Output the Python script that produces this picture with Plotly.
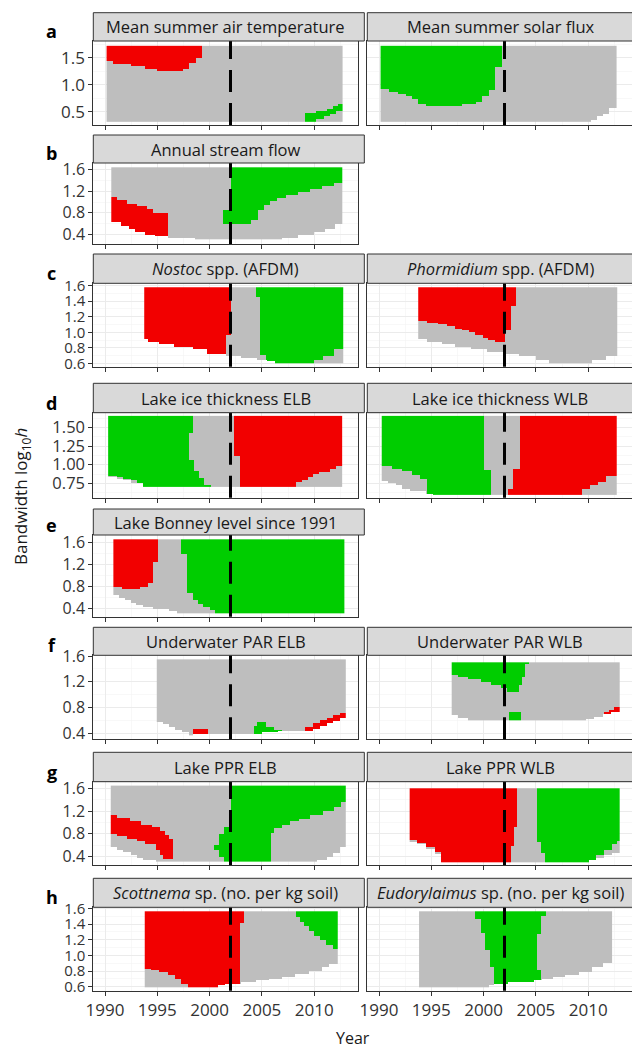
import numpy as np
import plotly.graph_objects as go

# ======================= DATA =======================
x_tick_years = [1990, 1995, 2000, 2005, 2010]
change_year = 2002
x_limits = [1988.88, 2014.19]

# Each SiZer map: span of years, top bandwidth, lower edge of the map (step list of
# (year, log10 h)), and coloured regions: lower / upper edges as step lists.
# ---- a: Mean summer air temperature
air_span = [1990.15, 2012.70]
air_top = 1.72
air_lo = [(1990.15, 0.31)]
air_red_lo = [(1990.15, 1.43), (1990.75, 1.38), (1992.5, 1.35), (1993.85, 1.30), (1995.0, 1.26),
              (1997.5, 1.30), (1998.1, 1.40), (1998.7, 1.50)]
air_green_lo = [(2009.05, 0.31), (2010.2, 0.36), (2010.9, 0.41), (2011.5, 0.46), (2012.1, 0.51)]
air_green_hi = [(2009.05, 0.47), (2010.2, 0.51), (2011.2, 0.56), (2011.8, 0.60), (2012.3, 0.64)]

# ---- a: Mean summer solar flux
sol_span = [1990.15, 2012.70]
sol_top = 1.72
sol_lo = [(1990.15, 0.31), (2010.25, 0.34), (2010.8, 0.41), (2011.4, 0.46), (2012.0, 0.57)]
sol_green_lo = [(1990.15, 0.915), (1990.95, 0.87), (1991.9, 0.82), (1992.55, 0.78), (1993.2, 0.73),
                (1993.8, 0.64), (1994.45, 0.61), (1997.95, 0.64), (1999.25, 0.685), (1999.9, 0.78),
                (2000.5, 0.90), (2001.1, 1.32)]

# ---- b: Annual stream flow
flow_span = [1990.6, 2012.7]
flow_top = 1.645
flow_lo = [(1990.6, 0.62), (1991.5, 0.555), (1992.3, 0.50), (1992.9, 0.43), (1993.85, 0.39),
           (1994.8, 0.36), (1996.0, 0.33), (1998.65, 0.30), (2006.95, 0.33), (2008.5, 0.39),
           (2010.0, 0.43), (2011.0, 0.50), (2012.0, 0.58)]
flow_red_hi = [(1990.6, 1.09), (1991.1, 1.04), (1992.1, 0.97), (1993.1, 0.92), (1994.0, 0.87),
               (1994.6, 0.79)]
flow_green_lo = [(2001.35, 0.585), (2004.05, 0.665), (2004.6, 0.85), (2005.2, 0.94), (2005.8, 1.02),
                 (2006.55, 1.07), (2007.35, 1.13), (2008.5, 1.19), (2009.65, 1.25), (2010.8, 1.30),
                 (2011.95, 1.36)]
flow_green_hi = [(2001.35, 0.85), (2002.1, 9.0)]

# ---- c: Nostoc spp. (AFDM)
nos_span = [1993.75, 2012.8]
nos_top = 1.58
nos_lo = [(1993.75, 0.91), (1994.2, 0.88), (1995.2, 0.845), (1996.55, 0.815), (1998.45, 0.78),
          (1999.8, 0.72), (2001.6, 0.69), (2003.0, 0.67), (2004.6, 0.645), (2005.5, 0.62), (2006.3, 0.60)]
nos_red_lo = [(1993.75, 0.0), (2001.6, 0.96)]
nos_green_lo = [(2004.45, 1.45), (2004.9, 0.70), (2005.35, 0.62), (2006.25, 0.60), (2010.0, 0.64),
                (2010.85, 0.685), (2011.85, 0.78)]

# ---- c: Phormidium spp. (AFDM)
pho_span = [1993.75, 2012.75]
pho_top = 1.58
pho_lo = [(1993.75, 0.91), (1994.55, 0.88), (1996.1, 0.845), (1997.25, 0.81), (1998.8, 0.78),
          (2000.35, 0.75), (2002.05, 0.72), (2003.4, 0.685), (2004.95, 0.64), (2006.3, 0.60),
          (2010.35, 0.64), (2011.7, 0.685)]
pho_red_lo = [(1993.75, 1.15), (1994.55, 1.12), (1995.7, 1.10), (1996.45, 1.08), (1997.25, 1.05),
              (1998.0, 1.03), (1998.6, 1.00), (1999.15, 0.965), (1999.95, 0.93), (2000.5, 0.90),
              (2001.1, 0.87), (2001.65, 0.88), (2002.06, 1.03), (2002.64, 1.33)]

# ---- d: Lake ice thickness ELB
ielb_span = [1990.3, 2012.72]
ielb_top = 1.657
ielb_lo = [(1990.3, 0.83), (1991.15, 0.81), (1991.7, 0.78), (1992.5, 0.75), (1993.65, 0.695)]
ielb_green_lo = [(1990.3, 0.835), (1991.15, 0.83), (1991.7, 0.81), (1992.5, 0.78), (1993.1, 0.75),
                 (1993.65, 0.695)]
ielb_green_hi = [(1990.3, 9.0), (1997.97, 1.064), (1998.5, 0.906), (1999.0, 0.816), (1999.55, 0.726)]
ielb_green2_lo = [(1997.97, 1.42)]
ielb_red_lo = [(2002.3, 1.11), (2002.9, 0.695), (2008.35, 0.76), (2008.95, 0.79), (2009.45, 0.83),
               (2009.95, 0.87), (2010.55, 0.905), (2011.5, 0.945), (2012.15, 0.97)]

# ---- d: Lake ice thickness WLB
iwlb_span = [1990.26, 2012.71]
iwlb_top = 1.657
iwlb_lo = [(1990.26, 0.79), (1990.9, 0.76), (1991.65, 0.725), (1992.2, 0.68), (1993.0, 0.645),
           (1994.5, 0.615), (1995.1, 0.60)]
iwlb_green_lo = [(1990.26, 0.99), (1991.3, 0.95), (1992.2, 0.915), (1993.2, 0.87), (1994.0, 0.815),
                 (1994.6, 0.60)]
iwlb_green_hi = [(1990.26, 9.0), (2000.05, 0.93)]
iwlb_red_lo = [(2002.34, 0.0), (2009.45, 0.68), (2010.1, 0.725), (2010.9, 0.77), (2011.7, 0.85)]
iwlb_red_hi = [(2002.34, 0.68), (2002.85, 0.95), (2003.4, 9.0)]

# ---- e: Lake Bonney level since 1991
lev_span = [1990.8, 2012.9]
lev_top = 1.661
lev_lo = [(1990.8, 0.645), (1991.35, 0.60), (1991.9, 0.55), (1992.5, 0.50), (1993.05, 0.465),
          (1993.65, 0.43), (1994.6, 0.39), (1996.15, 0.35), (1996.95, 0.31)]
lev_red_lo = [(1990.8, 0.78), (1991.6, 0.75), (1993.35, 0.78), (1994.1, 0.87), (1994.6, 1.25)]
lev_green_lo = [(1997.3, 1.40), (1997.8, 0.68), (1998.4, 0.55), (1998.9, 0.48), (1999.4, 0.43),
                (2000.0, 0.37), (2000.55, 0.31)]

# ---- f: Underwater PAR ELB
pe_span = [1994.95, 2013.04]
pe_top = 1.548
pe_lo = [(1994.95, 0.58), (1995.5, 0.55), (1996.1, 0.50), (1996.6, 0.46), (1997.3, 0.42),
         (1998.0, 0.375), (1998.45, 0.39), (2005.0, 0.42), (2006.5, 0.45), (2009.1, 0.45),
         (2009.9, 0.48), (2010.5, 0.52), (2011.2, 0.56), (2011.8, 0.60), (2012.4, 0.64)]
pe_red1_hi = [(1998.45, 0.477)]
pe_green_hi = [(2004.2, 0.53), (2004.5, 0.58), (2005.45, 0.50), (2006.1, 0.46)]
pe_red2_hi = [(2009.1, 0.50), (2009.9, 0.57), (2010.5, 0.61), (2011.2, 0.65), (2011.8, 0.69),
              (2012.4, 0.73)]

# ---- f: Underwater PAR WLB
pw_span = [1996.95, 2012.97]
pw_top = 1.502
pw_lo = [(1996.95, 0.685), (1997.6, 0.635), (1998.6, 0.605), (2009.8, 0.63), (2010.6, 0.66),
         (2011.4, 0.70), (2012.2, 0.74)]
pw_green_lo = [(1996.95, 1.31), (1997.6, 1.28), (1998.6, 1.24), (1999.75, 1.20), (2000.7, 1.15),
               (2001.65, 1.10), (2002.25, 1.04), (2003.4, 1.15), (2003.7, 1.28), (2004.0, 1.47)]
pw_green2_hi = [(2002.45, 0.73)]
pw_red_hi = [(2011.5, 0.73), (2012.0, 0.765), (2012.5, 0.80)]

# ---- g: Lake PPR ELB
ge_span = [1990.55, 2013.0]
ge_top = 1.647
ge_lo = [(1990.55, 0.575), (1991.1, 0.53), (1991.75, 0.48), (1992.4, 0.43), (1993.0, 0.38),
         (1993.65, 0.34), (1994.8, 0.32), (2010.25, 0.35), (2011.2, 0.40), (2011.8, 0.46),
         (2012.45, 0.575)]
ge_red_lo = [(1990.55, 0.81), (1991.15, 0.77), (1992.1, 0.72), (1993.05, 0.67), (1993.85, 0.62),
             (1994.8, 0.52), (1995.2, 0.43), (1995.55, 0.37)]
ge_red_hi = [(1990.55, 1.13), (1991.15, 1.085), (1992.3, 1.03), (1993.45, 0.97), (1994.4, 0.925),
             (1995.2, 0.85), (1995.75, 0.79), (1996.15, 0.72)]
ge_green_lo = [(2000.4, 0.53), (2000.97, 0.40), (2001.36, 0.0), (2005.8, 0.82), (2006.15, 0.90),
               (2006.95, 0.96), (2007.7, 1.02), (2008.5, 1.07), (2009.65, 1.13), (2010.8, 1.20),
               (2011.95, 1.28), (2012.5, 1.37)]
ge_green_hi = [(2000.4, 0.61), (2000.97, 0.81), (2001.36, 0.93), (2002.0, 9.0)]

# ---- g: Lake PPR WLB
gw_span = [1992.93, 2013.03]
gw_top = 1.60
gw_lo = [(1992.93, 0.67), (1993.6, 0.62), (1994.5, 0.54), (1995.3, 0.45), (1995.9, 0.31),
         (2010.15, 0.34), (2010.75, 0.38), (2011.5, 0.43), (2012.3, 0.47)]
gw_red_lo = [(1992.93, 0.69), (1993.6, 0.65), (1994.5, 0.57), (1995.3, 0.49), (1995.9, 0.0),
             (2002.64, 0.60), (2002.9, 0.92)]
gw_green_lo = [(2005.15, 0.66), (2005.5, 0.47), (2005.9, 0.0), (2010.15, 0.36), (2010.75, 0.43),
               (2011.5, 0.52), (2012.3, 0.62), (2012.7, 0.68)]

# ---- h: Scottnema sp.
sc_span = [1993.8, 2012.25]
sc_top = 1.562
sc_lo = [(1993.8, 0.59), (2000.8, 0.61), (2001.5, 0.64), (2003.0, 0.66), (2004.5, 0.68),
         (2005.7, 0.70), (2007.0, 0.72), (2008.2, 0.76), (2009.5, 0.80), (2010.8, 0.85), (2011.5, 0.89)]
sc_red_lo = [(1993.8, 0.82), (1994.4, 0.81), (1995.2, 0.78), (1995.95, 0.74), (1996.7, 0.69),
             (1997.3, 0.64), (1997.9, 0.0), (2002.85, 1.41)]
sc_green_lo = [(2008.3, 1.49), (2008.7, 1.43), (2009.05, 1.37), (2009.45, 1.31), (2010.0, 1.25),
               (2010.6, 1.195), (2011.2, 1.13), (2011.75, 1.075)]

# ---- h: Eudorylaimus sp.
eu_span = [1993.83, 2012.33]
eu_top = 1.562
eu_lo = [(1993.83, 0.59), (2000.5, 0.62), (2001.0, 0.64), (2002.3, 0.65), (2003.5, 0.66),
         (2004.8, 0.68), (2005.6, 0.70), (2006.6, 0.72), (2007.85, 0.75), (2009.15, 0.78),
         (2010.4, 0.85), (2011.4, 0.90)]
eu_green_lo = [(1999.25, 1.46), (1999.7, 1.28), (2000.13, 1.07), (2000.6, 0.85), (2001.0, 0.0)]
eu_green_hi = [(1999.25, 9.0), (2005.15, 0.81)]
eu_green2_lo = [(2005.15, 1.27)]
eu_green3_lo = [(2005.55, 1.51)]

# ======================= FIGURE =======================
RED, GREEN = 1, 2
W, H = 632, 1048
FONT = "Open Sans"

panels = [
    # row, col, title, span, top, lo, regions (code, x from, x to, lower, upper)
    (0, 0, "Mean summer air temperature", air_span, air_top, air_lo,
     [(RED, 1990.15, 1999.25, air_red_lo, None), (GREEN, 2009.05, 2012.7, air_green_lo, air_green_hi)]),
    (0, 1, "Mean summer solar flux", sol_span, sol_top, sol_lo,
     [(GREEN, 1990.15, 2001.75, sol_green_lo, None)]),
    (1, 0, "Annual stream flow", flow_span, flow_top, flow_lo,
     [(RED, 1990.6, 1996.0, None, flow_red_hi), (GREEN, 2001.35, 2012.7, flow_green_lo, flow_green_hi)]),
    (2, 0, "<i>Nostoc</i> spp. (AFDM)", nos_span, nos_top, nos_lo,
     [(RED, 1993.75, 2002.1, nos_red_lo, None), (GREEN, 2004.45, 2012.8, nos_green_lo, None)]),
    (2, 1, "<i>Phormidium</i> spp. (AFDM)", pho_span, pho_top, pho_lo,
     [(RED, 1993.75, 2003.05, pho_red_lo, None)]),
    (3, 0, "Lake ice thickness ELB", ielb_span, ielb_top, ielb_lo,
     [(GREEN, 1990.3, 2000.1, ielb_green_lo, ielb_green_hi), (GREEN, 1997.97, 1998.45, ielb_green2_lo, None),
      (RED, 2002.3, 2012.72, ielb_red_lo, None)]),
    (3, 1, "Lake ice thickness WLB", iwlb_span, iwlb_top, iwlb_lo,
     [(GREEN, 1990.26, 2000.69, iwlb_green_lo, iwlb_green_hi), (RED, 2002.34, 2012.71, iwlb_red_lo, iwlb_red_hi)]),
    (4, 0, "Lake Bonney level since 1991", lev_span, lev_top, lev_lo,
     [(RED, 1990.8, 1995.1, lev_red_lo, None), (GREEN, 1997.3, 2012.9, lev_green_lo, None)]),
    (5, 0, "Underwater PAR ELB", pe_span, pe_top, pe_lo,
     [(RED, 1998.45, 1999.8, None, pe_red1_hi), (GREEN, 2004.2, 2006.9, None, pe_green_hi),
      (RED, 2009.1, 2013.04, None, pe_red2_hi)]),
    (5, 1, "Underwater PAR WLB", pw_span, pw_top, pw_lo,
     [(GREEN, 1996.95, 2004.37, pw_green_lo, None), (GREEN, 2002.45, 2003.6, None, pw_green2_hi),
      (RED, 2011.5, 2012.97, None, pw_red_hi)]),
    (6, 0, "Lake PPR ELB", ge_span, ge_top, ge_lo,
     [(RED, 1990.55, 1996.54, ge_red_lo, ge_red_hi), (GREEN, 2000.4, 2013.0, ge_green_lo, ge_green_hi)]),
    (6, 1, "Lake PPR WLB", gw_span, gw_top, gw_lo,
     [(RED, 1992.93, 2003.24, gw_red_lo, None), (GREEN, 2005.15, 2013.03, gw_green_lo, None)]),
    (7, 0, "<i>Scottnema</i> sp. (no. per kg soil)", sc_span, sc_top, sc_lo,
     [(RED, 1993.8, 2003.3, sc_red_lo, None), (GREEN, 2008.3, 2012.25, sc_green_lo, None)]),
    (7, 1, "<i>Eudorylaimus</i> sp. (no. per kg soil)", eu_span, eu_top, eu_lo,
     [(GREEN, 1999.25, 2005.55, eu_green_lo, eu_green_hi), (GREEN, 2005.15, 2005.55, eu_green2_lo, None),
      (GREEN, 2005.55, 2006.03, eu_green3_lo, None)]),
]

# row layout in pixels: letter, plot top, plot bottom, strip top, y range, ticks, labels, minor step, tick font
rows = [
    ("a", 41.0, 125.0, 12.7, [0.259, 1.809], [0.5, 1.0, 1.5], ["0.5", "1.0", "1.5"], 0.25, 17),
    ("b", 163.0, 244.0, 135.0, [0.22, 1.725], [0.4, 0.8, 1.2, 1.6], ["0.4", "0.8", "1.2", "1.6"], 0.2, 16),
    ("c", 283.3, 366.7, 254.0, [0.556, 1.631], [0.6, 0.8, 1.0, 1.2, 1.4, 1.6],
     ["0.6", "0.8", "1.0", "1.2", "1.4", "1.6"], 0.1, 15),
    ("d", 412.7, 497.7, 383.3, [0.556, 1.70], [0.75, 1.0, 1.25, 1.5], ["0.75", "1.00", "1.25", "1.50"], 0.125, 16.5),
    ("e", 535.0, 616.7, 509.0, [0.248, 1.74], [0.4, 0.8, 1.2, 1.6], ["0.4", "0.8", "1.2", "1.6"], 0.2, 16),
    ("f", 655.3, 739.3, 627.3, [0.307, 1.611], [0.4, 0.8, 1.2, 1.6], ["0.4", "0.8", "1.2", "1.6"], 0.2, 16),
    ("g", 781.7, 865.0, 752.3, [0.254, 1.716], [0.4, 0.8, 1.2, 1.6], ["0.4", "0.8", "1.2", "1.6"], 0.2, 16),
    ("h", 907.3, 990.7, 878.3, [0.549, 1.613], [0.6, 0.8, 1.0, 1.2, 1.4, 1.6],
     ["0.6", "0.8", "1.0", "1.2", "1.4", "1.6"], 0.1, 15),
]
cols = [(93.3, 358.0), (367.3, 632.0)]


def step(steps, x, default):
    if steps is None:
        return default
    v = None
    for bx, by in steps:
        if x >= bx - 1e-9:
            v = by
        else:
            break
    return default if v is None else v


def sizer_grid(span, top, lo, regions, dx=0.1, dy=0.008):
    x0, x1 = span
    n = max(1, int(round((x1 - x0) / dx)))
    xs = x0 + (x1 - x0) / n * (np.arange(n) + 0.5)
    ymin = min(v for _, v in lo)
    m = max(1, int(np.ceil((top - ymin) / dy)))
    ys = ymin + (top - ymin) / m * (np.arange(m) + 0.5)
    z = np.full((m, n), np.nan)
    for j, xc in enumerate(xs):
        low = step(lo, xc, ymin)
        z[ys >= low, j] = 0
        for code, rx0, rx1, rlo, rhi in regions:
            if rx0 <= xc < rx1:
                a = max(step(rlo, xc, 0.0), low)
                b = min(step(rhi, xc, 9.0), top)
                z[(ys >= a) & (ys <= b), j] = code
    zl = [[None if np.isnan(v) else int(v) for v in row] for row in z]
    return xs.tolist(), ys.tolist(), zl


def px_x(p):
    return p / W


def px_y(p):
    return 1 - p / H


colorscale = [[0, "#BEBEBE"], [0.25, "#BEBEBE"], [0.25, "#F20000"], [0.75, "#F20000"],
              [0.75, "#00CD00"], [1, "#00CD00"]]

fig = go.Figure()
layout = dict(template="none", width=W, height=H, autosize=False,
              margin=dict(l=0, r=0, t=0, b=0, pad=0, autoexpand=False),
              paper_bgcolor="white", plot_bgcolor="white", showlegend=False,
              font=dict(family=FONT, color="#333333"))
shapes, annotations = [], []

for idx, (r, c, title, span, top, lo, regions) in enumerate(panels):
    k = idx + 1
    xa = "xaxis" if k == 1 else f"xaxis{k}"
    ya = "yaxis" if k == 1 else f"yaxis{k}"
    xref = "x" if k == 1 else f"x{k}"
    yref = "y" if k == 1 else f"y{k}"
    letter, ptop, pbot, stop, yrange, yt, ytl, yminor, yfs = rows[r]
    cl, cr = cols[c]

    xs, ys, z = sizer_grid(span, top, lo, regions)
    fig.add_trace(go.Heatmap(x=xs, y=ys, z=z, zmin=0, zmax=2, colorscale=colorscale,
                             showscale=False, hoverinfo="skip", xaxis=xref, yaxis=yref))

    layout[xa] = dict(domain=[px_x(cl), min(1.0, px_x(cr))], range=x_limits, anchor=yref,
                      automargin=False,
                      tickvals=x_tick_years, ticktext=[str(v) for v in x_tick_years],
                      showticklabels=(r == 7), ticks="outside", ticklen=4, tickcolor="#333333",
                      tickwidth=1, tickfont=dict(size=17, color="#333333", family=FONT),
                      showline=True, mirror=True, linecolor="#333333", linewidth=1,
                      showgrid=True, gridcolor="#EBEBEB", gridwidth=1, zeroline=False,
                      minor=dict(tick0=1990, dtick=2.5, showgrid=True, gridcolor="#F3F3F3", gridwidth=0.6))
    layout[ya] = dict(domain=[px_y(pbot), px_y(ptop)], range=yrange, anchor=xref,
                      automargin=False,
                      tickvals=yt, ticktext=ytl, showticklabels=(c == 0),
                      ticks="outside" if c == 0 else "", ticklen=4, tickcolor="#333333", tickwidth=1,
                      tickfont=dict(size=yfs, color="#333333", family=FONT),
                      showline=True, mirror=True, linecolor="#333333", linewidth=1,
                      showgrid=True, gridcolor="#EBEBEB", gridwidth=1, zeroline=False,
                      minor=dict(tick0=yt[0], dtick=yminor, showgrid=True, gridcolor="#F3F3F3", gridwidth=0.6))

    # dashed change-year line
    shapes.append(dict(type="line", xref=xref, yref=f"{yref} domain", x0=change_year, x1=change_year,
                       y0=0, y1=1, line=dict(color="black", width=3, dash="22px,11px"), layer="above"))
    # strip
    shapes.append(dict(type="rect", xref="paper", yref="paper", x0=px_x(cl), x1=min(1.0, px_x(cr)) + 0.01,
                       y0=px_y(ptop), y1=px_y(stop), fillcolor="#D9D9D9",
                       line=dict(color="#333333", width=1), layer="above"))
    strip_right = 633.0 if c == 1 else cr
    annotations.append(dict(text=title, xref="paper", yref="paper", x=px_x((cl + strip_right) / 2),
                            y=px_y((stop + ptop) / 2), xanchor="center", yanchor="middle", showarrow=False,
                            font=dict(size=16.5, color="#1A1A1A", family=FONT)))

# row letters
for letter, ptop, pbot, stop, *_ in rows:
    annotations.append(dict(text=f"<b>{letter}</b>", xref="paper", yref="paper", x=px_x(51.7),
                            y=px_y(ptop + 4), xanchor="center", yanchor="bottom", showarrow=False,
                            font=dict(size=18, color="black", family=FONT)))

annotations.append(dict(text="Bandwidth log<sub>10</sub><i>h</i>", xref="paper", yref="paper",
                        x=px_x(21), y=px_y(497), textangle=-90, xanchor="center", yanchor="middle",
                        showarrow=False, font=dict(size=17, color="#1A1A1A", family=FONT)))
annotations.append(dict(text="Year", xref="paper", yref="paper", x=px_x(353), y=px_y(1038),
                        xanchor="center", yanchor="middle", showarrow=False,
                        font=dict(size=16, color="#1A1A1A", family=FONT)))

layout["shapes"] = shapes
layout["annotations"] = annotations
fig.update_layout(**layout)
fig.write_html("out.html", config={"displayModeBar": False, "staticPlot": True},
               post_script="document.body.style.margin='0';document.body.style.padding='0';"
                           "document.documentElement.style.overflow='hidden';")
